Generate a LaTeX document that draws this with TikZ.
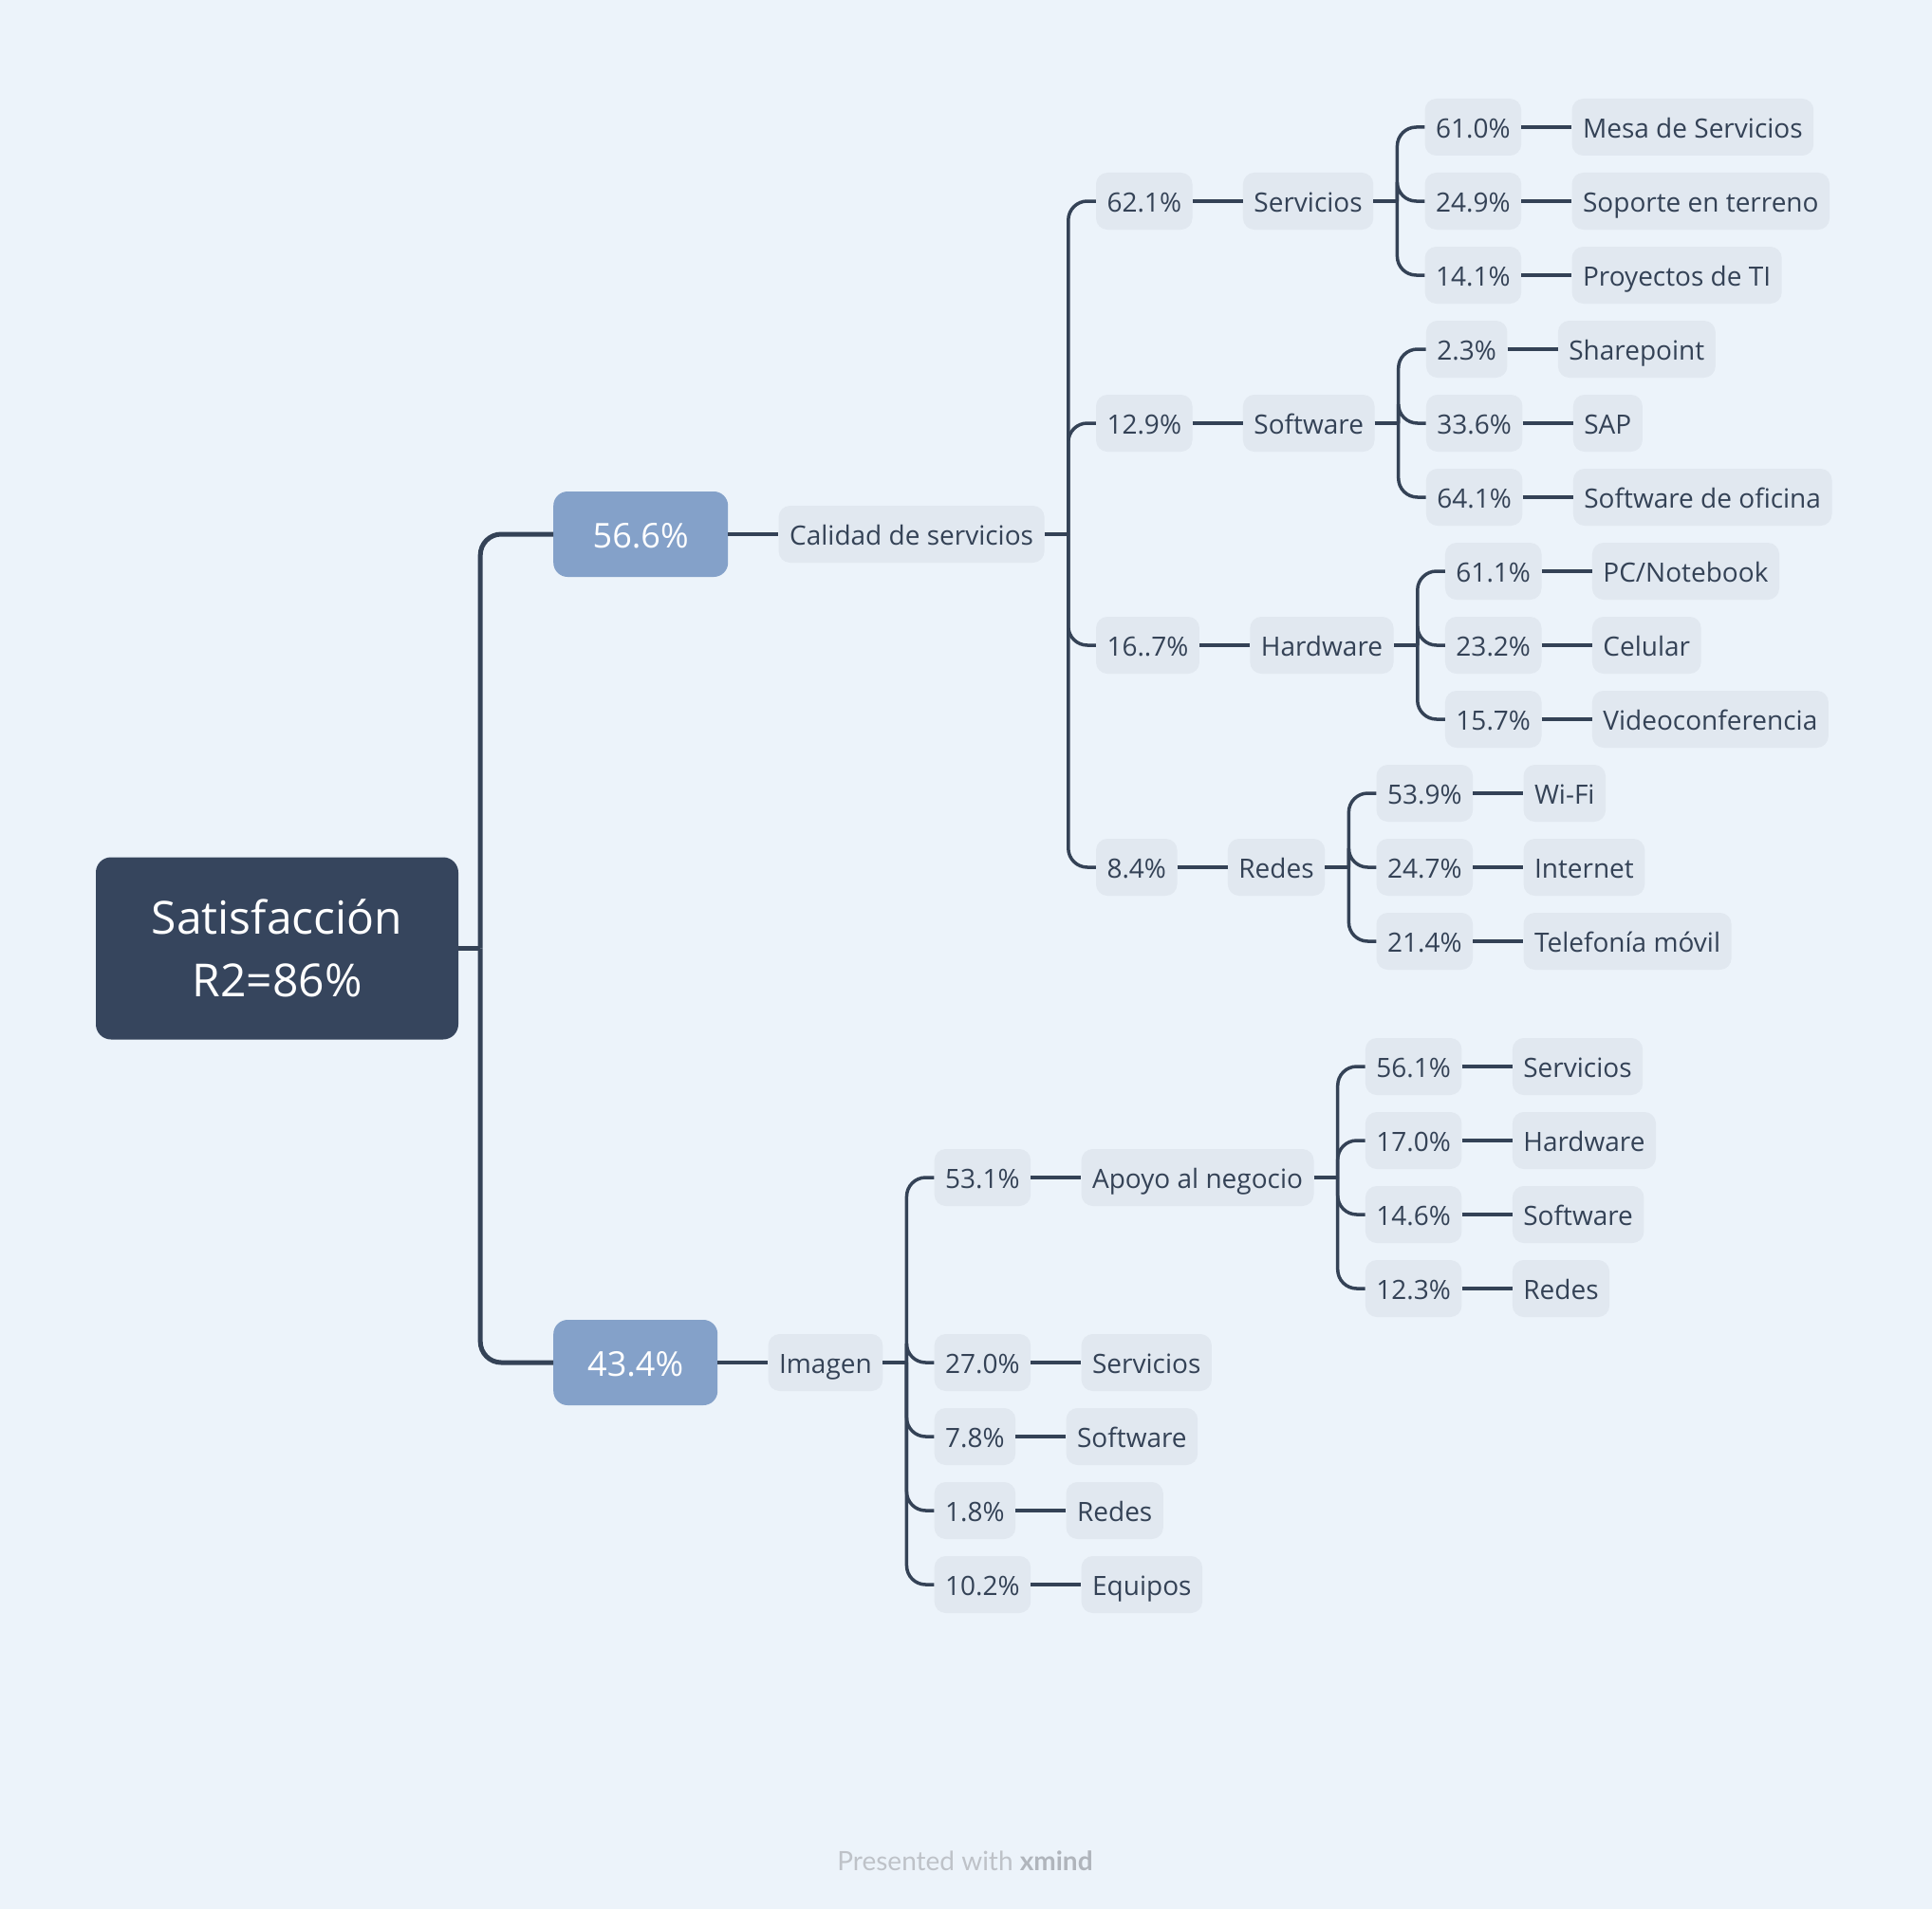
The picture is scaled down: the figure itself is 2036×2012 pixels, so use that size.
\documentclass[tikz,border=0pt]{standalone}
\usepackage{fontspec}
\setmainfont{Open Sans}
\newfontfamily\footfont{Lato}
\usetikzlibrary{positioning,calc}
\definecolor{bg}{RGB}{236,243,250}
\definecolor{nodefill}{RGB}{225,232,240}
\definecolor{ink}{RGB}{52,66,86}
\definecolor{rootfill}{RGB}{54,69,93}
\definecolor{lonefill}{RGB}{132,161,201}
\definecolor{footgray}{RGB}{190,194,200}
\definecolor{footdark}{RGB}{176,181,188}
\begin{document}
\begin{tikzpicture}[x=1pt,y=-1pt,
  topic/.style={fill=nodefill, text=ink, rounded corners=12pt, minimum height=60pt,
    inner xsep=11.5pt, inner ysep=0pt, text height=27pt, text depth=3.4pt,
    font=\fontsize{28}{34}\selectfont, anchor=west},
  mainbox/.style={fill=lonefill, text=white, rounded corners=15pt, minimum height=90pt,
    inner xsep=0pt, inner ysep=0pt, text height=31pt, text depth=2pt,
    font=\fontsize{36}{42}\selectfont, anchor=west},
  rootbox/.style={fill=rootfill, text=white, rounded corners=16pt, minimum width=382pt,
    minimum height=192pt, align=center, font=\fontsize{48}{66}\selectfont},
  rootlink/.style={draw=ink, line width=5pt, rounded corners=22pt},
  midlink/.style={draw=ink, line width=4pt},
  stub/.style={draw=ink, line width=4.5pt},
  link/.style={draw=ink, line width=3.5pt, rounded corners=20pt},
  footnote/.style={font=\footfont\fontsize{28}{32}\selectfont, text=footgray}
]
\fill[bg] (0,0) rectangle (2036,2012);
\useasboundingbox (0,0) rectangle (2036,2012);

% root
\node[rootbox] (root) at (292,999.5) {Satisfacción\\R2=86\%};
\coordinate (t0) at ($(root.east)+(23,0)$);

% level 1
\node[mainbox, minimum width=184pt] (la) at (583,563) {56.6\%};
\node[mainbox, minimum width=173pt] (lb) at (583,1436) {43.4\%};
\draw[stub, line width=5pt] (root.east) -- (t0);
\draw[rootlink] (t0) |- (la.west);
\draw[rootlink] (t0) |- (lb.west);

% level 2
\node[topic, right=53pt of la] (cal) {Calidad de servicios};
\node[topic, right=53pt of lb] (img) {Imagen};
\draw[midlink] (la) -- (cal);
\draw[midlink] (lb) -- (img);

% ---- Calidad de servicios branch
\coordinate (tc) at ($(cal.east)+(25,0)$);
\node[topic] (p1) at ($(cal.east)+(54,-351)$) {62.1\%};
\node[topic] (p2) at ($(cal.east)+(54,-117)$) {12.9\%};
\node[topic] (p3) at ($(cal.east)+(54,117)$) {16..7\%};
\node[topic] (p4) at ($(cal.east)+(54,351)$) {8.4\%};
\draw[stub] (cal.east) -- (tc);
\foreach \c in {p1,p2,p3,p4} \draw[link] (tc) |- (\c.west);

\node[topic, right=53pt of p1] (sv) {Servicios};
\node[topic, right=53pt of p2] (sw) {Software};
\node[topic, right=53pt of p3] (hw) {Hardware};
\node[topic, right=53pt of p4] (rd) {Redes};
\draw[link] (p1) -- (sv);
\draw[link] (p2) -- (sw);
\draw[link] (p3) -- (hw);
\draw[link] (p4) -- (rd);

% Servicios
\coordinate (tsv) at ($(sv.east)+(25,0)$);
\node[topic] (sv1) at ($(sv.east)+(54,-78)$) {61.0\%};
\node[topic] (sv2) at ($(sv.east)+(54,0)$) {24.9\%};
\node[topic] (sv3) at ($(sv.east)+(54,78)$) {14.1\%};
\draw[stub] (sv.east) -- (tsv);
\foreach \c in {sv1,sv2,sv3} \draw[link] (tsv) |- (\c.west);
\node[topic, right=53pt of sv1] (svn1) {Mesa de Servicios};
\node[topic, right=53pt of sv2] (svn2) {Soporte en terreno};
\node[topic, right=53pt of sv3] (svn3) {Proyectos de TI};
\draw[link] (sv1) -- (svn1);
\draw[link] (sv2) -- (svn2);
\draw[link] (sv3) -- (svn3);

% Software
\coordinate (tsw) at ($(sw.east)+(25,0)$);
\node[topic] (sw1) at ($(sw.east)+(54,-78)$) {2.3\%};
\node[topic] (sw2) at ($(sw.east)+(54,0)$) {33.6\%};
\node[topic] (sw3) at ($(sw.east)+(54,78)$) {64.1\%};
\draw[stub] (sw.east) -- (tsw);
\foreach \c in {sw1,sw2,sw3} \draw[link] (tsw) |- (\c.west);
\node[topic, right=53pt of sw1] (swn1) {Sharepoint};
\node[topic, right=53pt of sw2] (swn2) {SAP};
\node[topic, right=53pt of sw3] (swn3) {Software de oficina};
\draw[link] (sw1) -- (swn1);
\draw[link] (sw2) -- (swn2);
\draw[link] (sw3) -- (swn3);

% Hardware
\coordinate (thw) at ($(hw.east)+(25,0)$);
\node[topic] (hw1) at ($(hw.east)+(54,-78)$) {61.1\%};
\node[topic] (hw2) at ($(hw.east)+(54,0)$) {23.2\%};
\node[topic] (hw3) at ($(hw.east)+(54,78)$) {15.7\%};
\draw[stub] (hw.east) -- (thw);
\foreach \c in {hw1,hw2,hw3} \draw[link] (thw) |- (\c.west);
\node[topic, right=53pt of hw1] (hwn1) {PC/Notebook};
\node[topic, right=53pt of hw2] (hwn2) {Celular};
\node[topic, right=53pt of hw3] (hwn3) {Videoconferencia};
\draw[link] (hw1) -- (hwn1);
\draw[link] (hw2) -- (hwn2);
\draw[link] (hw3) -- (hwn3);

% Redes
\coordinate (trd) at ($(rd.east)+(25,0)$);
\node[topic] (rd1) at ($(rd.east)+(54,-78)$) {53.9\%};
\node[topic] (rd2) at ($(rd.east)+(54,0)$) {24.7\%};
\node[topic] (rd3) at ($(rd.east)+(54,78)$) {21.4\%};
\draw[stub] (rd.east) -- (trd);
\foreach \c in {rd1,rd2,rd3} \draw[link] (trd) |- (\c.west);
\node[topic, right=53pt of rd1] (rdn1) {Wi-Fi};
\node[topic, right=53pt of rd2] (rdn2) {Internet};
\node[topic, right=53pt of rd3] (rdn3) {Telefonía móvil};
\draw[link] (rd1) -- (rdn1);
\draw[link] (rd2) -- (rdn2);
\draw[link] (rd3) -- (rdn3);

% ---- Imagen branch
\coordinate (ti) at ($(img.east)+(25,0)$);
\node[topic] (q1) at ($(img.east)+(54,-195)$) {53.1\%};
\node[topic] (q2) at ($(img.east)+(54,0)$) {27.0\%};
\node[topic] (q3) at ($(img.east)+(54,78)$) {7.8\%};
\node[topic] (q4) at ($(img.east)+(54,156)$) {1.8\%};
\node[topic] (q5) at ($(img.east)+(54,234)$) {10.2\%};
\draw[stub] (img.east) -- (ti);
\foreach \c in {q1,q2,q3,q4,q5} \draw[link] (ti) |- (\c.west);
\node[topic, right=53pt of q1] (ap) {Apoyo al negocio};
\node[topic, right=53pt of q2] (qn2) {Servicios};
\node[topic, right=53pt of q3] (qn3) {Software};
\node[topic, right=53pt of q4] (qn4) {Redes};
\node[topic, right=53pt of q5] (qn5) {Equipos};
\draw[link] (q1) -- (ap);
\draw[link] (q2) -- (qn2);
\draw[link] (q3) -- (qn3);
\draw[link] (q4) -- (qn4);
\draw[link] (q5) -- (qn5);

% Apoyo al negocio
\coordinate (tap) at ($(ap.east)+(25,0)$);
\node[topic] (a1) at ($(ap.east)+(54,-117)$) {56.1\%};
\node[topic] (a2) at ($(ap.east)+(54,-39)$) {17.0\%};
\node[topic] (a3) at ($(ap.east)+(54,39)$) {14.6\%};
\node[topic] (a4) at ($(ap.east)+(54,117)$) {12.3\%};
\draw[stub] (ap.east) -- (tap);
\foreach \c in {a1,a2,a3,a4} \draw[link] (tap) |- (\c.west);
\node[topic, right=53pt of a1] (an1) {Servicios};
\node[topic, right=53pt of a2] (an2) {Hardware};
\node[topic, right=53pt of a3] (an3) {Software};
\node[topic, right=53pt of a4] (an4) {Redes};
\draw[link] (a1) -- (an1);
\draw[link] (a2) -- (an2);
\draw[link] (a3) -- (an3);
\draw[link] (a4) -- (an4);

% footer
\node[footnote] (foot) at (1017,1961) {Presented with {\bfseries\color{footdark}xmind}};
\end{tikzpicture}
\end{document}
